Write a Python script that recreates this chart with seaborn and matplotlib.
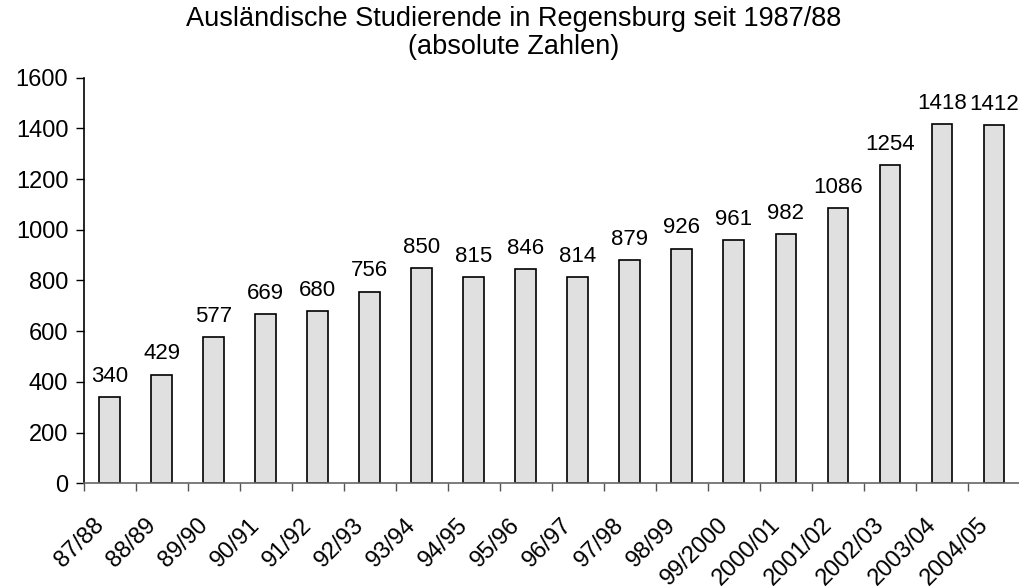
import matplotlib
matplotlib.use("Agg")
import matplotlib.pyplot as plt
import matplotlib.transforms as mtransforms
import seaborn as sns
import pandas as pd
import numpy as np
from matplotlib.ticker import FixedLocator

semesters = ["87/88", "88/89", "89/90", "90/91", "91/92", "92/93", "93/94", "94/95",
             "95/96", "96/97", "97/98", "98/99", "99/2000", "2000/01", "2001/02",
             "2002/03", "2003/04", "2004/05"]
students = [340, 429, 577, 669, 680, 756, 850, 815, 846, 814, 879, 926, 961, 982,
            1086, 1254, 1418, 1412]

sns.set_style("white")
plt.rcParams['font.family'] = ['Liberation Sans', 'DejaVu Sans']
plt.rcParams['text.color'] = 'black'
plt.rcParams['xtick.color'] = 'black'
plt.rcParams['ytick.color'] = 'black'

df = pd.DataFrame({"sem": semesters, "n": students})

fig = plt.figure(figsize=(10.2, 5.88), dpi=100)
ax = fig.add_axes([0.082, 0.178, 0.918, 0.69])
sns.barplot(data=df, x="sem", y="n", color="#e0e0e0", edgecolor="black",
            linewidth=1.2, width=0.4, saturation=1, ax=ax)

for i, v in enumerate(students):
    ax.text(i, v + 40, str(v), ha="center", va="bottom", fontsize=16, color="black")

ax.set_ylim(0, 1600)
ax.set_xlim(-0.5, len(semesters) - 0.5)
ax.set_yticks(range(0, 1601, 200))
ax.tick_params(axis="y", labelsize=17, length=6, width=1, direction="out", left=True,
               color="black", labelcolor="black", pad=5)
ax.set_xticks(range(len(semesters)))
ax.set_xticklabels(semesters, rotation=45, ha="right", rotation_mode="anchor", fontsize=17,
                   color="black")
ax.tick_params(axis="x", which="major", length=0, pad=22)
offset = mtransforms.ScaledTranslation(-17 / 100, 0, fig.dpi_scale_trans)
for lab in ax.get_xticklabels():
    lab.set_transform(lab.get_transform() + offset)
ax.xaxis.set_minor_locator(FixedLocator(np.arange(-0.5, len(semesters), 1.0)))
ax.tick_params(axis="x", which="minor", length=6, width=1, bottom=True, color="#555555")
ax.set_xlabel("")
ax.set_ylabel("")
for s in ["top", "right"]:
    ax.spines[s].set_visible(False)
ax.spines["left"].set_color("black")
ax.spines["left"].set_linewidth(1.2)
ax.spines["bottom"].set_color("#666666")
ax.spines["bottom"].set_linewidth(1.2)

fig.text(0.504, 0.99, "Ausländische Studierende in Regensburg seit 1987/88\n(absolute Zahlen)",
         ha="center", va="top", fontsize=19.5, linespacing=1.1, color="black")

fig.savefig("out.png", dpi=100)
